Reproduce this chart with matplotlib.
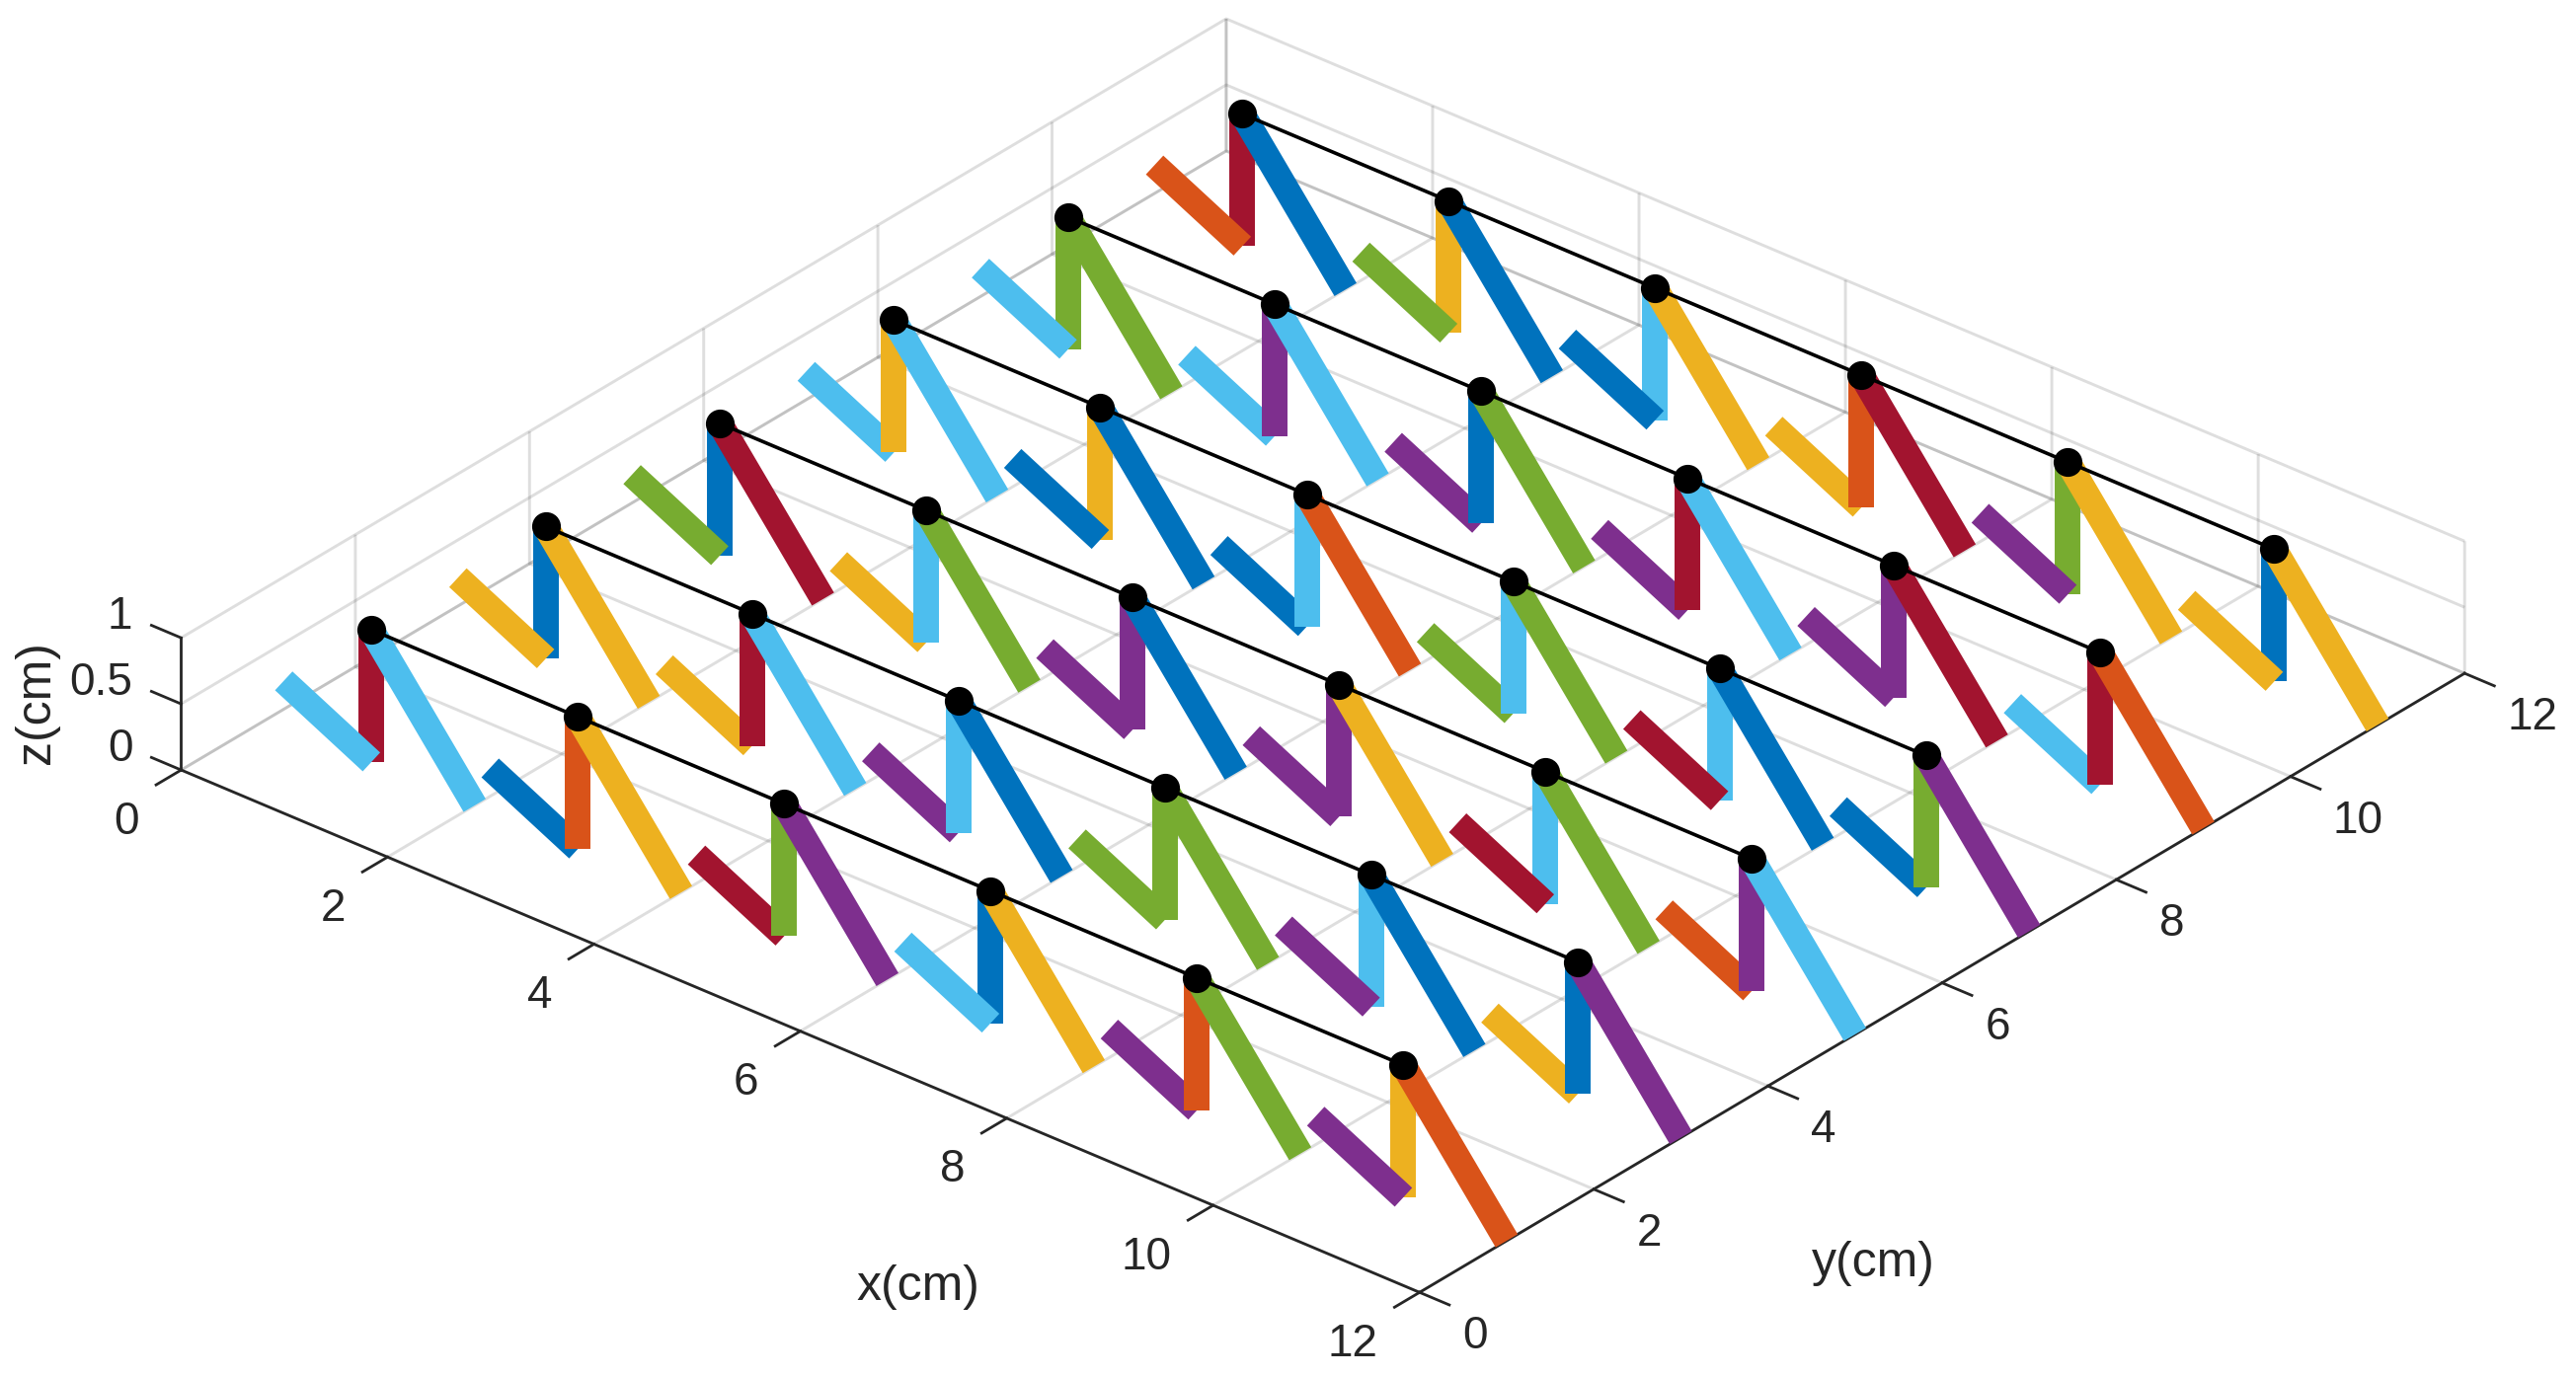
import matplotlib
matplotlib.use("Agg")
import matplotlib.pyplot as plt
from mpl_toolkits.mplot3d import proj3d

plt.rcParams['font.family'] = ['Liberation Sans', 'DejaVu Sans']

# MATLAB default line colours
b = '#0072BD'
o = '#D95319'
w = '#EDB120'
p = '#7E2F8E'
g = '#77AC30'
c = '#4DBEEE'
r = '#A2142F'

node_x = [1, 3, 5, 7, 9, 11]
node_y = [1, 3, 5, 7, 9, 11]
x_ticks = [0, 2, 4, 6, 8, 10, 12]
y_ticks = [0, 2, 4, 6, 8, 10, 12]
z_ticks = [0, 0.5, 1]
z_tick_labels = ['0', '0.5', '1']

# zigzag at each node, relative x and absolute z
zig_dx = [-0.85, 0, 0, 1]
zig_z = [1 / 3, 0, 1, 0]

# colours of each row (one list per y), in x order
arm_left = [
    [c, b, r, c, p, p],
    [w, w, p, g, p, w],
    [g, w, p, p, r, o],
    [c, b, b, g, r, b],
    [c, c, p, p, p, c],
    [o, g, b, w, p, w],
]
post = [
    [r, o, g, b, o, w],
    [b, r, c, g, c, b],
    [b, c, p, p, c, p],
    [w, w, c, c, c, g],
    [g, p, b, r, p, r],
    [r, w, c, o, g, b],
]
arm_right = [
    [c, w, p, w, g, o],
    [w, c, b, g, b, p],
    [r, g, b, w, g, c],
    [c, b, o, g, b, p],
    [g, c, g, c, r, o],
    [b, b, w, r, w, w],
]
# 1 where the left arm lies over the post
arm_on_top = [
    [1, 0, 0, 1, 0, 1],
    [1, 0, 0, 1, 1, 0],
    [1, 0, 1, 1, 1, 0],
    [0, 1, 0, 0, 1, 0],
    [1, 0, 0, 0, 1, 0],
    [1, 1, 1, 0, 1, 1],
]

fig = plt.figure(figsize=(26.09, 13.94), dpi=100)
side = 1394
cx, cy = 1321, 711
ax = fig.add_axes([(cx - side / 2) / 2609, (cy - side / 2) / 1394, side / 2609, side / 1394],
                  projection='3d', proj_type='ortho')
ax.computed_zorder = False
ax.view_init(elev=30, azim=-49.84)
ax.set_box_aspect((1, 1, 0.0942), zoom=1.6199)
ax.set_xlim(0, 12)
ax.set_ylim(0, 12)
ax.set_zlim(0, 1)
ax.set_xticks(x_ticks)
ax.set_yticks(y_ticks)
ax.set_zticks(z_ticks)
ax.set_zticklabels([])

for axis in [ax.xaxis, ax.yaxis, ax.zaxis]:
    axis.pane.set_visible(False)
    axis.line.set_color('#262626')
    axis.line.set_linewidth(2)
    axis._axinfo['grid'].update(color=(0.15, 0.15, 0.15, 0.15), linewidth=2.1)
    axis._axinfo['tick']['linewidth'] = {True: 2, False: 2}
    axis._axinfo['tick']['color'] = '#262626'
ax.xaxis._axinfo['tick'].update(inward_factor=0.3, outward_factor=0)
ax.yaxis._axinfo['tick'].update(inward_factor=0.3, outward_factor=0)
ax.zaxis._axinfo['tick'].update(inward_factor=0, outward_factor=0.3)

ax.zaxis.set_ticks_position('lower')
ax.zaxis._get_tickdir = lambda pos: 0

ax.tick_params(axis='both', labelsize=33, colors='#262626')
ax.tick_params(axis='x', pad=13)
ax.tick_params(axis='y', pad=10)
for t in ax.get_xticklabels():
    t.set_va('top')
    t.set_ha('right')
for t in ax.get_yticklabels():
    t.set_va('top')
    t.set_ha('left')


def bar(xs, ys, zs, col):
    ax.plot(xs, ys, zs, color=col, lw=18.7, solid_capstyle='butt', zorder=2, clip_on=False)


# back rows first so the front ones lie on top
for j in range(len(node_y) - 1, -1, -1):
    y = node_y[j]
    for i, x in enumerate(node_x):
        px = [x + d for d in zig_dx]
        py = [y] * 4
        if arm_on_top[j][i]:
            bar(px[1:3], py[1:3], zig_z[1:3], post[j][i])
            bar(px[0:2], py[0:2], zig_z[0:2], arm_left[j][i])
        else:
            bar(px[0:2], py[0:2], zig_z[0:2], arm_left[j][i])
            bar(px[1:3], py[1:3], zig_z[1:3], post[j][i])
        bar(px[2:4], py[2:4], zig_z[2:4], arm_right[j][i])
    ax.plot(node_x, [y] * 6, [1] * 6, color='k', lw=2.6, marker='o', ms=20, zorder=3, clip_on=False)


def label3d(x, y, z, s, **kw):
    sx, sy, _ = proj3d.proj_transform(x, y, z, ax.get_proj())
    ax.text2D(sx, sy, s, transform=ax.transData, color='#262626', va='center', **kw)


for v, s in zip(z_ticks, z_tick_labels):
    label3d(-0.47, 0, v, s, fontsize=33, ha='right')
label3d(8.885, -2.07, -0.175, 'x(cm)', fontsize=36, ha='center')
label3d(14.29, 2.50, 0, 'y(cm)', fontsize=36, ha='center')
label3d(-0.79, -0.723, 0.53, 'z(cm)', fontsize=36, ha='center', rotation=90)

fig.savefig('out.png', dpi=100)
